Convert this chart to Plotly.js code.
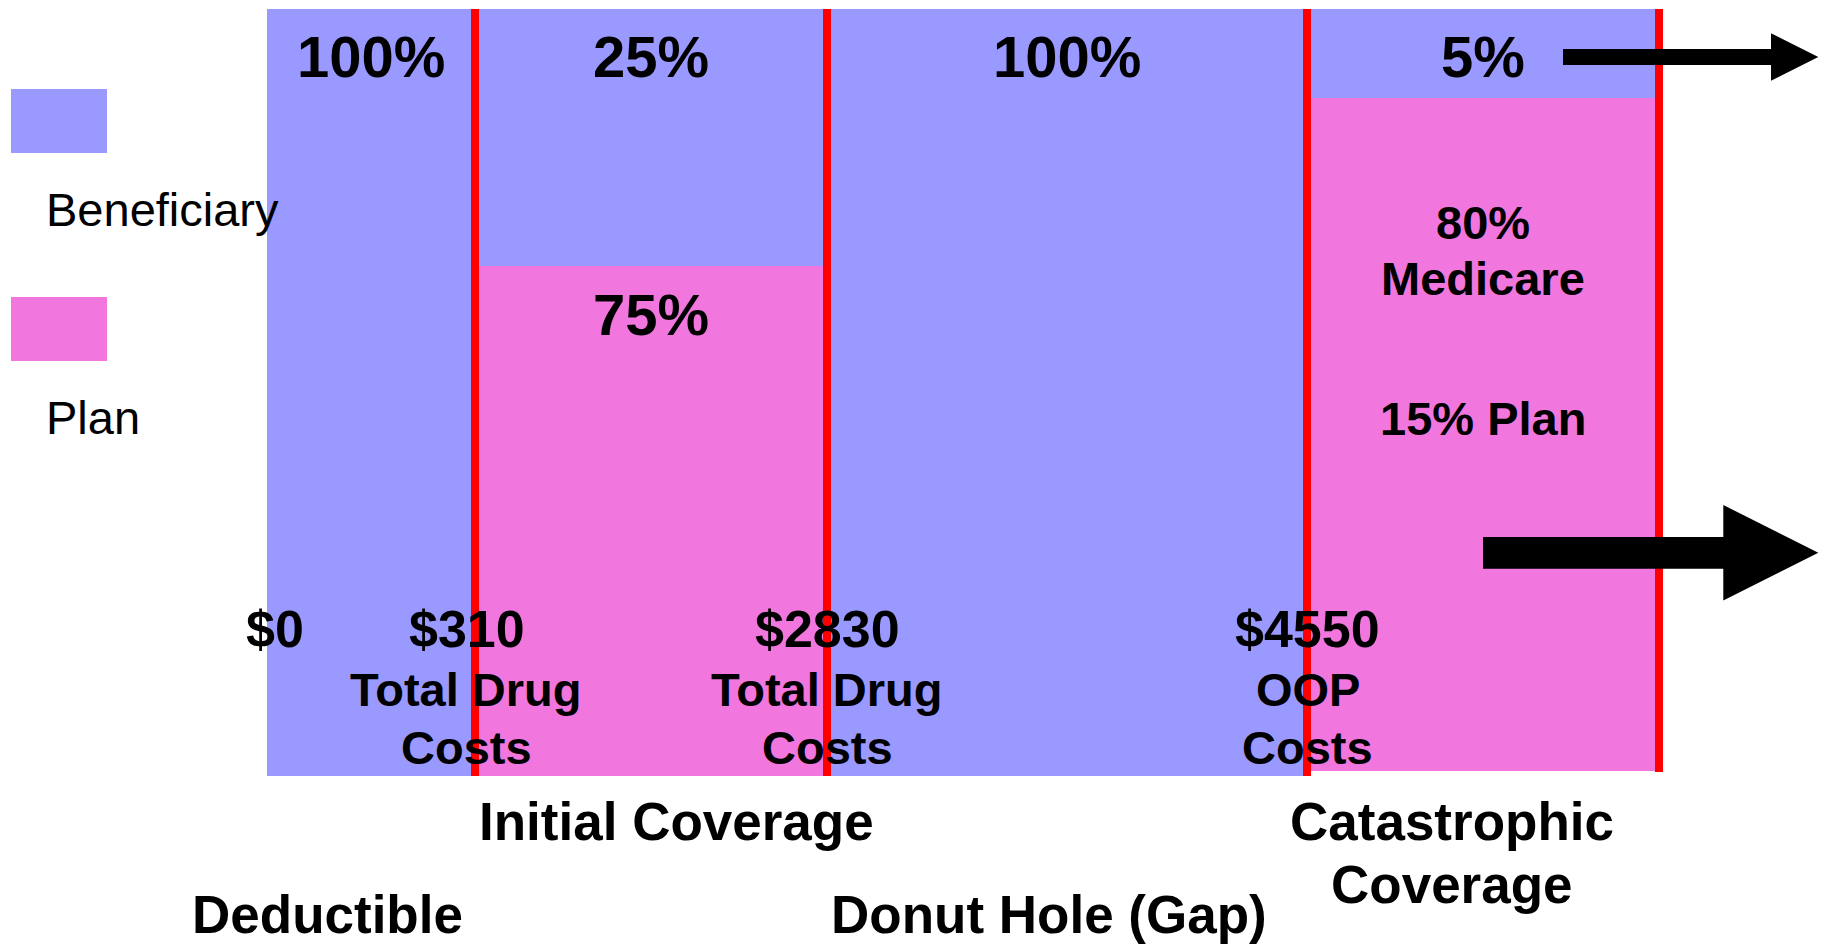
<!DOCTYPE html>
<html>
<head>
<meta charset="utf-8">
<script src="https://cdn.plot.ly/plotly-3.0.1.min.js"></script>
<style>html,body{margin:0;padding:0;background:#fff;}#chart{width:1824px;height:944px;}</style>
</head>
<body>
<div id="chart"></div>
<script>
// ---- data ----
const stages = ["Deductible", "Initial Coverage", "Donut Hole (Gap)", "Catastrophic Coverage"];
const stageEdges = [267, 475, 827, 1307, 1659];          // stage boundaries on the horizontal scale
const beneficiaryLabels = ["100%", "25%", "100%", "5%"];
const beneficiaryBase = [0, 66.5, 0, 88.4];              // bottom of the beneficiary block (0-100 scale)
const beneficiaryTop = [100, 100, 100, 100];
const planStages = [1, 3];                               // stages where the plan pays
const planBase = [0, 0.65];
const planTop = [66.5, 88.4];
const planLabels = ["75%", "80%|Medicare||15% Plan"];
const thresholdLabels = ["$0", "$310", "$2830", "$4550"];
const thresholdNotes = ["", "Total Drug|Costs", "Total Drug|Costs", "OOP|Costs"];
const seriesNames = ["Beneficiary", "Plan"];

// ---- styling ----
const W = 1824, H = 944;
const BLUE = "#9999FF", PINK = "#F177DF", RED = "#FF0000";
const FONT = "Liberation Sans, Arial, sans-serif";
const yZeroPx = 776, yTopPx = 9, k = (yZeroPx - yTopPx) / 100;
const yRange = [-(H - yZeroPx) / k, 100 + yTopPx / k];

const centers = stages.map((s, i) => (stageEdges[i] + stageEdges[i + 1]) / 2);
const widths = stages.map((s, i) => stageEdges[i + 1] - stageEdges[i]);

const traces = [
  {
    type: "bar", name: seriesNames[0], x: centers, width: widths,
    base: beneficiaryBase, y: beneficiaryTop.map((t, i) => t - beneficiaryBase[i]),
    marker: {color: BLUE, line: {width: 0}}, hoverinfo: "skip", showlegend: false
  },
  {
    type: "bar", name: seriesNames[1], x: planStages.map(i => centers[i]), width: planStages.map(i => widths[i]),
    base: planBase, y: planTop.map((t, i) => t - planBase[i]),
    marker: {color: PINK, line: {width: 0}}, hoverinfo: "skip", showlegend: false
  }
];

// helpers for text placement in pixel terms
const px = v => v / W;
const py = v => 1 - v / H;
function lab(text, x, baseline, fs, bold, anchor) {
  return {
    text: text, x: px(x), y: py(baseline + 1 - 0.3465 * fs), xref: "paper", yref: "paper",
    xanchor: anchor || "center", yanchor: "middle", showarrow: false, borderpad: 0,
    font: {family: FONT, size: fs, color: "#000", weight: bold ? 700 : 400}
  };
}

const ann = [];
// beneficiary shares on top row
beneficiaryLabels.forEach((t, i) => ann.push(lab(t, centers[i], 76, 58, true)));
// plan shares
ann.push(lab(planLabels[0], centers[1], 333.3, 58, true));
const catLines = planLabels[1].split("|");
ann.push(lab(catLines[0], centers[3], 237.3, 47, true));
ann.push(lab(catLines[1], centers[3], 294, 47, true));
ann.push(lab(catLines[3], centers[3], 433.3, 47, true));
// thresholds
const thrX = [275, 467, 827, 1307.5];
thresholdLabels.forEach((t, i) => {
  ann.push(lab(t, thrX[i], 646, 52, true));
  if (thresholdNotes[i]) {
    const ln = thresholdNotes[i].split("|");
    ann.push(lab(ln[0], thrX[i] - (i === 1 ? 1 : 0), 705, 47, true));
    ann.push(lab(ln[1], thrX[i] - (i === 1 ? 1 : 0), 763, 47, true));
  }
});
// stage names
ann.push(lab(stages[0], 327.5, 931.5, 53, true));
ann.push(lab(stages[1], 676.6, 838.7, 53, true));
ann.push(lab(stages[2], 1048.7, 931.5, 53, true));
ann.push(lab("Catastrophic", 1451.6, 838.7, 53, true));
ann.push(lab("Coverage", 1451.6, 902, 53, true));
// legend text
ann.push(lab(seriesNames[0], 44.5, 225, 47, false, "left"));
ann.push(lab(seriesNames[1], 44.5, 432.3, 47, false, "left"));

const shapes = [];
// red stage dividers
stageEdges.slice(1).forEach((e, i) => {
  shapes.push({
    type: "line", xref: "x", yref: "y", x0: e, x1: e,
    y0: i === 3 ? 0.52 : 0, y1: 100, line: {color: RED, width: 8}
  });
});
// legend swatches
shapes.push({type: "rect", xref: "paper", yref: "paper", x0: px(11), x1: px(107), y0: py(153), y1: py(89), fillcolor: BLUE, line: {width: 0}});
shapes.push({type: "rect", xref: "paper", yref: "paper", x0: px(11), x1: px(107), y0: py(361), y1: py(297), fillcolor: PINK, line: {width: 0}});
// block arrows
function arrowPath(x0, xb, xt, s0, s1, h0, h1) {
  const ym = (h0 + h1) / 2;
  const pts = [[x0, s0], [xb, s0], [xb, h0], [xt, ym], [xb, h1], [xb, s1], [x0, s1]];
  return "M" + pts.map(p => px(p[0]) + "," + py(p[1])).join("L") + "Z";
}
shapes.push({type: "path", xref: "paper", yref: "paper", path: arrowPath(1563, 1771, 1818.3, 49, 65, 33.3, 80.7), fillcolor: "#000", line: {width: 0}});
shapes.push({type: "path", xref: "paper", yref: "paper", path: arrowPath(1483, 1723.3, 1818.3, 537, 568.7, 505, 600.5), fillcolor: "#000", line: {width: 0}});

const layout = {
  width: W, height: H, margin: {l: 0, r: 0, t: 0, b: 0, pad: 0},
  paper_bgcolor: "#fff", plot_bgcolor: "#fff", barmode: "overlay", showlegend: false,
  xaxis: {range: [0, W], visible: false, fixedrange: true},
  yaxis: {range: yRange, visible: false, fixedrange: true},
  annotations: ann, shapes: shapes, hovermode: false,
  font: {family: FONT}
};

Plotly.newPlot("chart", traces, layout, {displayModeBar: false, staticPlot: true});
</script>
</body>
</html>
